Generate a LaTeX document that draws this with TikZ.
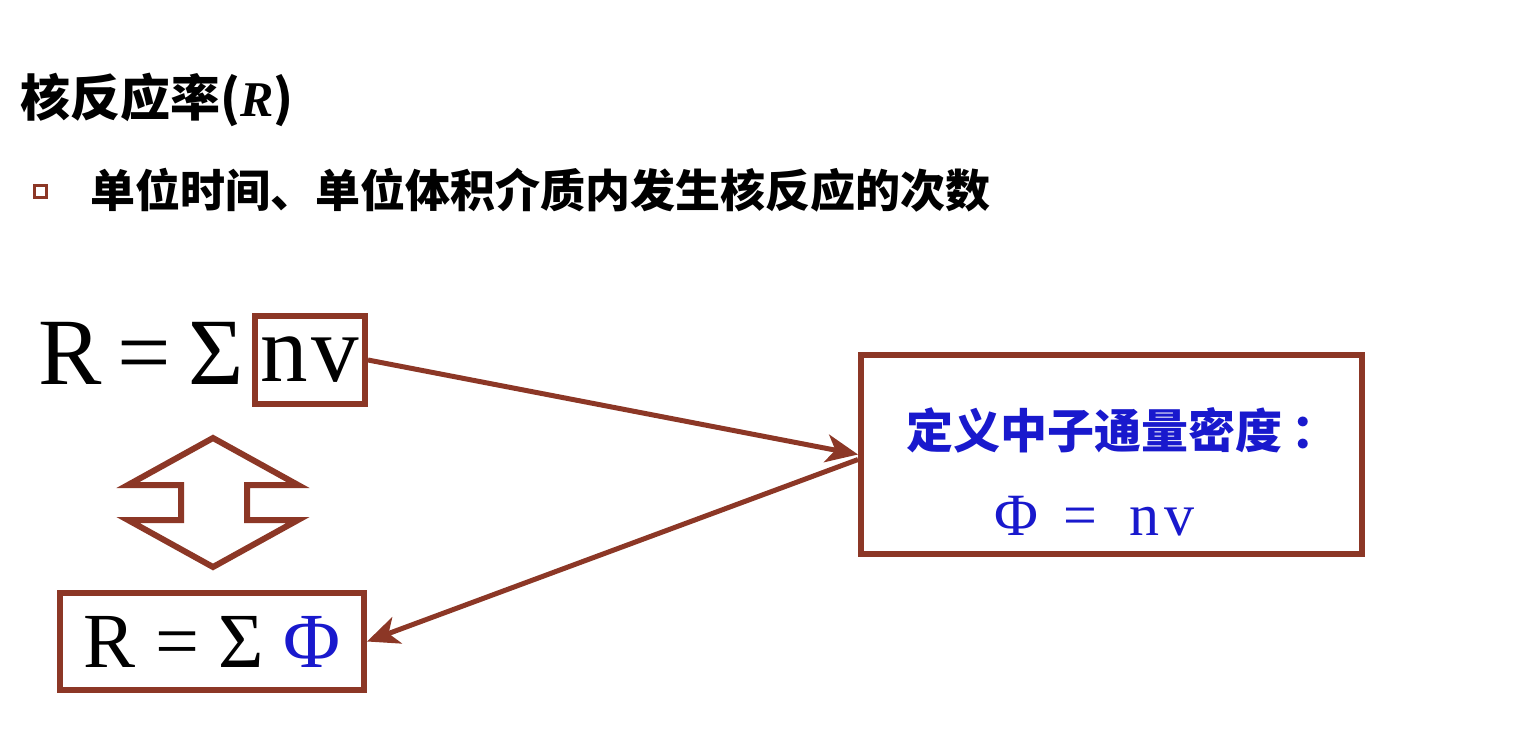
\documentclass[tikz,border=0pt]{standalone}
\usepackage{fontspec}
\setmainfont{Liberation Serif}
\newfontfamily\cjk{Noto Sans CJK SC}
\usetikzlibrary{arrows.meta}
\definecolor{brn}{RGB}{140,55,38}
\definecolor{blu}{RGB}{25,25,205}
\tikzset{
  frame/.style={draw=brn, line width=6pt, inner sep=0pt, fill=white},
  conn/.style={draw=brn, line width=5pt, -{Stealth[length=32pt, width=28pt, inset=9pt]}},
  plain/.style={inner sep=0pt, outer sep=0pt},
}
\newcommand{\fs}[1]{\fontsize{#1}{#1}\selectfont}
\begin{document}
\begin{tikzpicture}[x=1pt, y=-1pt]
\useasboundingbox (0,0) rectangle (1539,733);
% title
\node[plain, anchor=west] (title) at (20,100) {\fs{50}\cjk\bfseries 核反应率({\rmfamily\itshape R})};
% bullet
\node[plain, draw=brn, line width=3pt, minimum width=12pt, minimum height=12pt] (bul) at (40,191.5) {};
\node[plain, anchor=west] (btext) at (90,190) {\fs{45}\cjk\bfseries 单位时间、单位体积介质内发生核反应的次数};
% top formula
\node[plain, anchor=base west] (rsum) at (38,384) {\fs{95}R\hspace{16pt}=\hspace{18pt}Σ};
\node[frame, minimum width=110pt, minimum height=88pt] (nv) at (310,360) {\fs{95}n\hspace{4pt}v};
% double arrow
\draw[brn, line width=6pt, line join=miter, fill=white] (213,438) -- (298,485) -- (247,485) -- (247,520) -- (298,520) -- (213,567) -- (128,520) -- (181,520) -- (181,485) -- (128,485) -- cycle;
% bottom box
\node[frame, minimum width=304pt, minimum height=97pt] (rphi) at (212,641.5) {\fs{78}R = Σ \textcolor{blu}{Φ}};
% right box
\node[frame, minimum width=501pt, minimum height=199pt] (def) at (1111.5,454.5) {};
\node[plain, anchor=west, text=blu] (deftext) at (906,430) {\fs{47}\cjk\bfseries 定义中子通量密度\hspace{10pt}：};
\node[plain, anchor=base west, text=blu] (phieq) at (994,535) {\fs{60}Φ\hspace{26pt}=\hspace{32pt}n\hspace{5pt}v};
% connectors
\draw[conn] (nv.east) -- (def.west);
\draw[conn] ([yshift=-5pt]def.west) -- (rphi.east);
\end{tikzpicture}
\end{document}
